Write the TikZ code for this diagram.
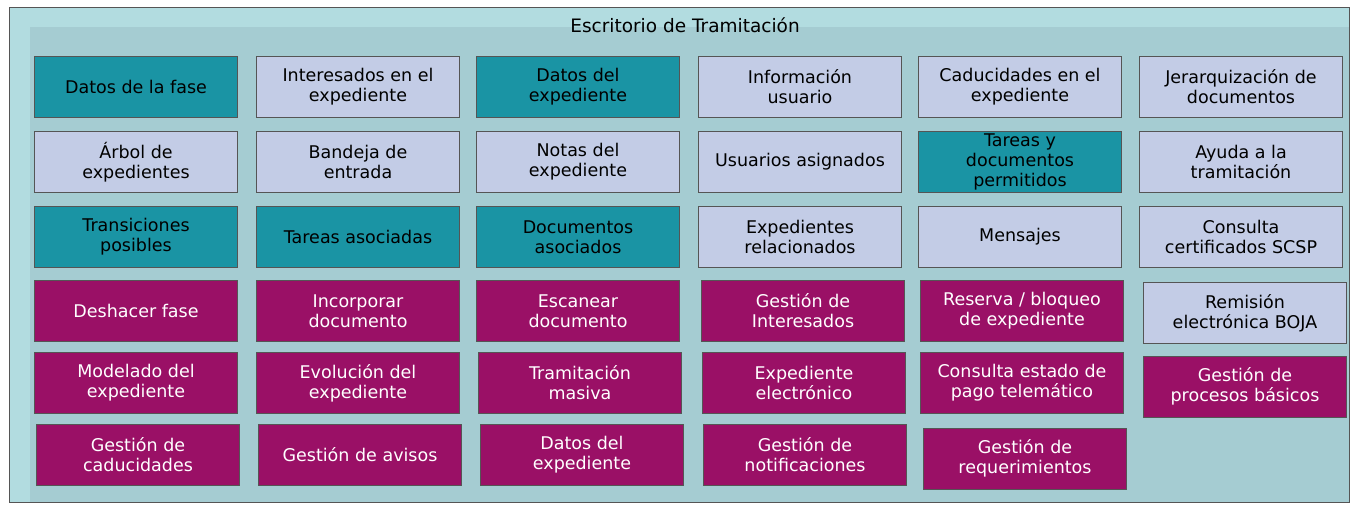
\documentclass[tikz,border=0pt]{standalone}
\usepackage{fontspec}
\setmainfont{DejaVu Sans}
\definecolor{marco}{HTML}{B2DCE0}
\definecolor{panel}{HTML}{A5CCD2}
\definecolor{verdeazul}{HTML}{1A94A4}
\definecolor{lavanda}{HTML}{C3CCE6}
\definecolor{morado}{HTML}{9A1066}
\definecolor{borde}{HTML}{555555}
\tikzset{
  caja/.style={draw=borde,line width=1pt,minimum width=203pt,minimum height=61pt,
    align=center,inner sep=0pt,font=\fontsize{17.5}{20}\selectfont},
  fase/.style={caja,fill=verdeazul,text=black},
  info/.style={caja,fill=lavanda,text=black},
  accion/.style={caja,fill=morado,text=white}
}
\begin{document}
\begin{tikzpicture}[x=1pt,y=-1pt]
    \useasboundingbox (0,0) rectangle (1357,505);
    \fill[white] (0,0) rectangle (1357,505);
    \draw[draw=borde,fill=marco] (9,7) rectangle (1349,502);
    \fill[panel] (30,27) rectangle (1348.5,501.5);
    \node[font=\fontsize{18.5}{20}\selectfont] (titulo) at (685,25) {Escritorio de Tramitación};
    % fila 1
    \node[fase] (datosfase) at (136,87) {Datos de la fase};
    \node[info] (interesados) at (358,87) {Interesados en el\\expediente};
    \node[fase] (datosexp) at (578,87) {Datos del\\expediente};
    \node[info] (infousuario) at (800,87) {Información\\usuario};
    \node[info] (caducidades) at (1020,87) {Caducidades en el\\expediente};
    \node[info] (jerarquia) at (1241,87) {Jerarquización de\\documentos};
    % fila 2
    \node[info] (arbol) at (136,162) {Árbol de\\expedientes};
    \node[info] (bandeja) at (358,162) {Bandeja de\\entrada};
    \node[info] (notas) at (578,162) {Notas del\\expediente};
    \node[info] (usuarios) at (800,162) {Usuarios asignados};
    \node[fase] (tareasdoc) at (1020,162) {Tareas y\\documentos\\permitidos};
    \node[info] (ayuda) at (1241,162) {Ayuda a la\\tramitación};
    % fila 3
    \node[fase] (transiciones) at (136,237) {Transiciones\\posibles};
    \node[fase] (tareasasoc) at (358,237) {Tareas asociadas};
    \node[fase] (documentos) at (578,237) {Documentos\\asociados};
    \node[info] (exprel) at (800,237) {Expedientes\\relacionados};
    \node[info] (mensajes) at (1020,237) {Mensajes};
    \node[info] (scsp) at (1241,237) {Consulta\\certificados SCSP};
    % fila 4
    \node[accion] (deshacer) at (136,311) {Deshacer fase};
    \node[accion] (incorporar) at (358,311) {Incorporar\\documento};
    \node[accion] (escanear) at (578,311) {Escanear\\documento};
    \node[accion] (gestinteresados) at (803,311) {Gestión de\\Interesados};
    \node[accion] (reserva) at (1022,311) {Reserva / bloqueo\\de expediente};
    \node[info] (boja) at (1245,313) {Remisión\\electrónica BOJA};
    % fila 5
    \node[accion] (modelado) at (136,383) {Modelado del\\expediente};
    \node[accion] (evolucion) at (358,383) {Evolución del\\expediente};
    \node[accion] (masiva) at (580,383) {Tramitación\\masiva};
    \node[accion] (expelectronico) at (804,383) {Expediente\\electrónico};
    \node[accion] (pago) at (1022,383) {Consulta estado de\\pago telemático};
    \node[accion] (procesos) at (1245,386.5) {Gestión de\\procesos básicos};
    % fila 6
    \node[accion] (gestcaducidades) at (138,455) {Gestión de\\caducidades};
    \node[accion] (avisos) at (360,455) {Gestión de avisos};
    \node[accion] (datosexpdos) at (582,455) {Datos del\\expediente};
    \node[accion] (notificaciones) at (805,455) {Gestión de\\notificaciones};
    \node[accion] (requerimientos) at (1025,458.5) {Gestión de\\requerimientos};
\end{tikzpicture}
\end{document}
